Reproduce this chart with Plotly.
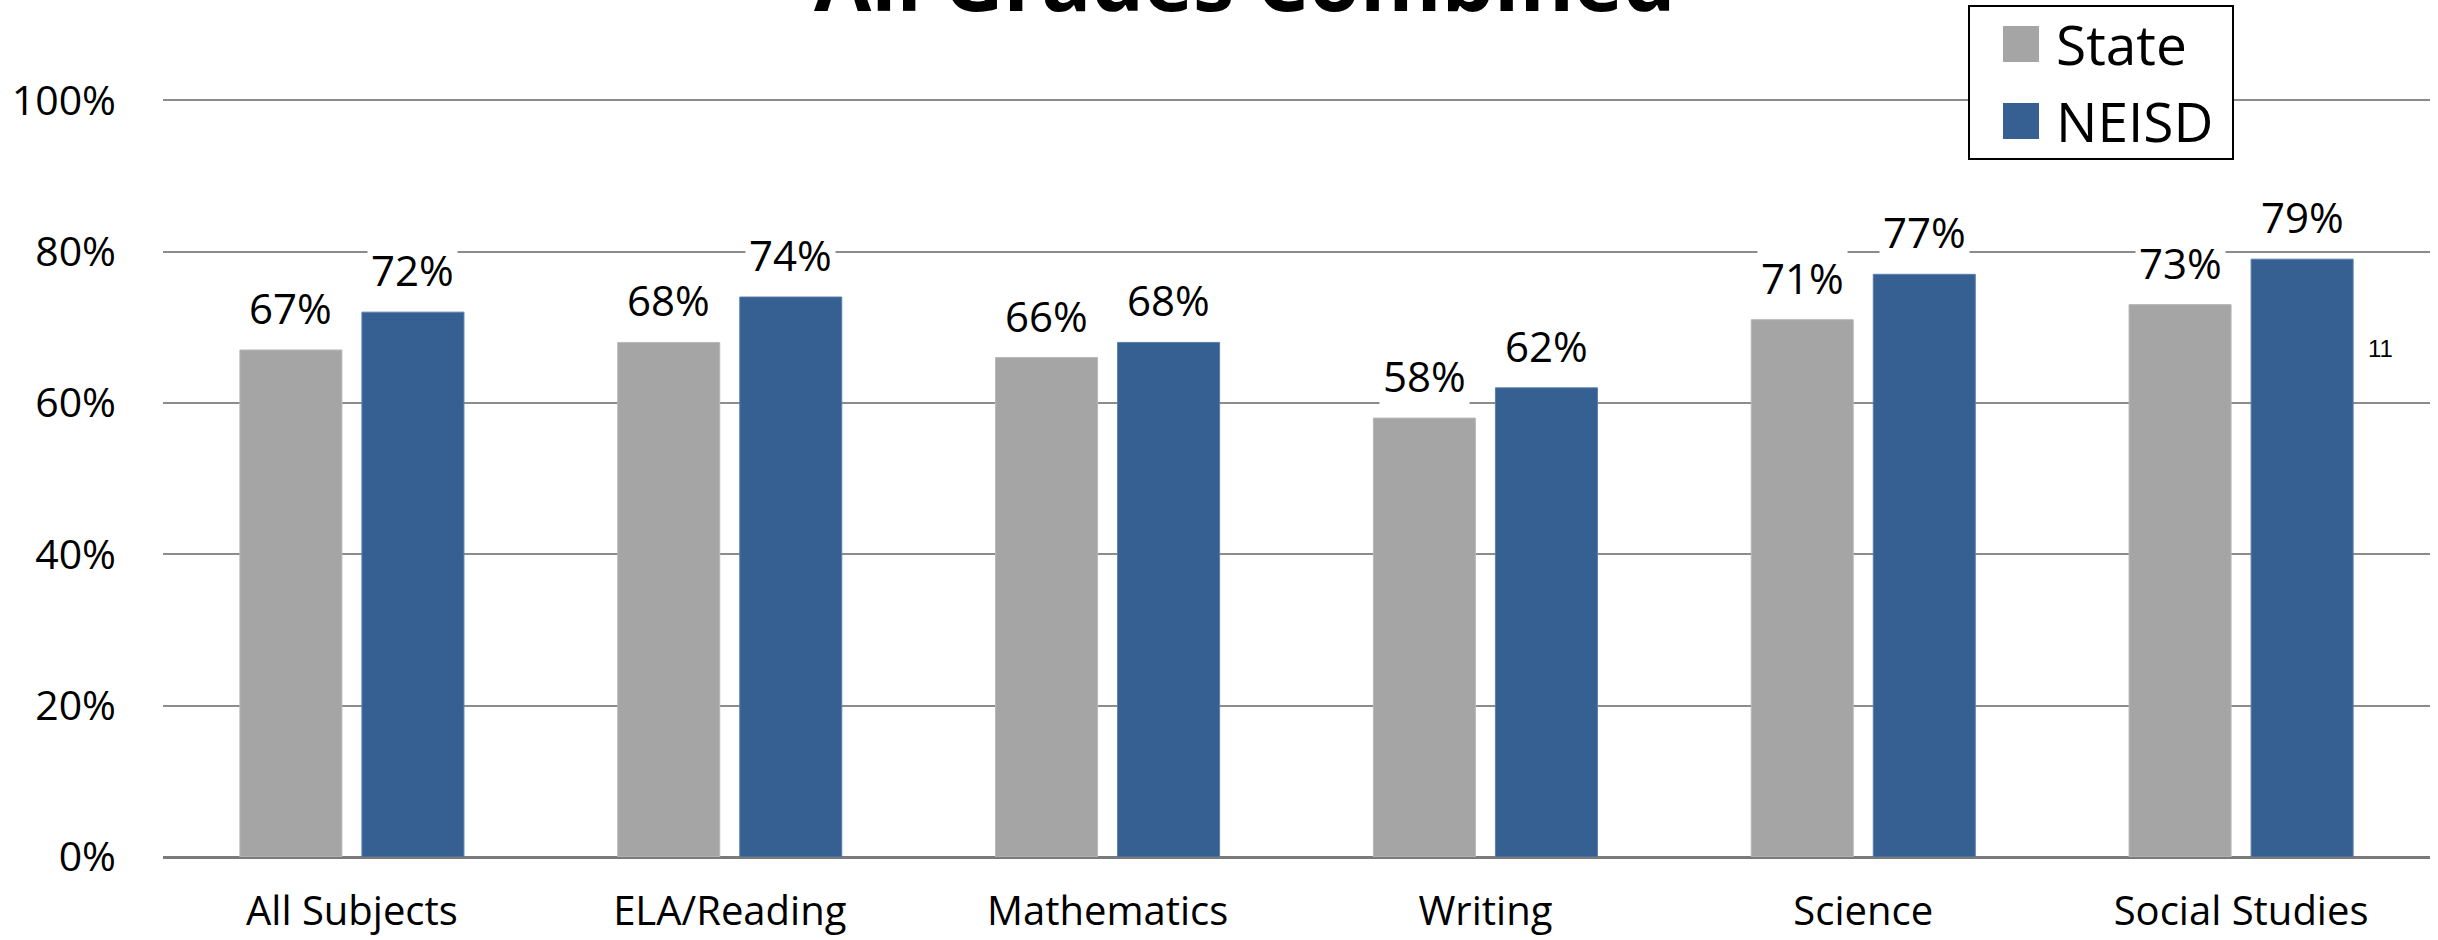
import plotly.graph_objects as go

categories = ["All Subjects", "ELA/Reading", "Mathematics", "Writing", "Science", "Social Studies"]
state_values = [0.67, 0.68, 0.66, 0.58, 0.71, 0.73]
neisd_values = [0.72, 0.74, 0.68, 0.62, 0.77, 0.79]
series_names = ["State", "NEISD"]
y_ticks = [0, 0.2, 0.4, 0.6, 0.8, 1.0]
title_text = "All Grades Combined"
page_note = "11"

W, H = 2438, 940
ML, MR, MT, MB = 163, 8, 98, 83
PW, PH = W - ML - MR, H - MT - MB

def px_x(x):
    return (x - ML) / PW

def px_y(y):
    return (H - MB - y) / PH

colors = ["#a5a5a5", "#376092"]
edge = ["#b8b8b8", "#5a7fab"]
FONT = "Open Sans"

fig = go.Figure()
for name, vals, c, e in zip(series_names, [state_values, neisd_values], colors, edge):
    fig.add_trace(go.Bar(x=categories, y=vals, name=name, marker=dict(color=c, line=dict(color=e, width=1)),
                         showlegend=False, hoverinfo="skip"))

annotations = []
offsets = [-61, 61]
for vals, dx in zip([state_values, neisd_values], offsets):
    for cat, v in zip(categories, vals):
        annotations.append(dict(x=cat, y=v, xref="x", yref="y", text=f"{round(v*100)}%",
                                showarrow=False, xshift=dx, yanchor="bottom", yshift=10,
                                font=dict(family=FONT, size=42, color="#000"),
                                bgcolor="white", borderpad=3))

# title (partly cut off at top as in the original)
annotations.append(dict(x=px_x(1245), y=px_y(-22), xref="paper", yref="paper", text=f"<b>{title_text}</b>",
                        showarrow=False, xanchor="center", yanchor="middle",
                        font=dict(family=FONT, size=83, color="#000")))
# page number
annotations.append(dict(x=px_x(2380), y=px_y(348), xref="paper", yref="paper", text=page_note,
                        showarrow=False, xanchor="center", yanchor="middle",
                        font=dict(family="Liberation Sans", size=24, color="#000")))

shapes = []
# legend box
shapes.append(dict(type="rect", xref="paper", yref="paper", x0=px_x(1969), x1=px_x(2233), y0=px_y(159), y1=px_y(6),
                   line=dict(color="#000", width=2), fillcolor="white", layer="above"))
for i, (name, c) in enumerate(zip(series_names, colors)):
    cy = 44 + i * 77
    shapes.append(dict(type="rect", xref="paper", yref="paper", x0=px_x(2003), x1=px_x(2039),
                       y0=px_y(cy + 18), y1=px_y(cy - 18), line=dict(width=0), fillcolor=c, layer="above"))
    annotations.append(dict(x=px_x(2054), y=px_y(cy), xref="paper", yref="paper", text=name,
                            showarrow=False, xanchor="left", yanchor="middle",
                            font=dict(family=FONT, size=55, color="#000")))

fig.update_layout(
    width=W, height=H,
    margin=dict(l=ML, r=MR, t=MT, b=MB, pad=0),
    paper_bgcolor="white", plot_bgcolor="white",
    barmode="group", bargap=0.354, bargroupgap=0.164,
    annotations=annotations, shapes=shapes,
    showlegend=False,
)
fig.update_xaxes(showgrid=False, showline=False, ticks="", ticklabelstandoff=27, automargin=False,
                 tickfont=dict(family=FONT, size=40, color="#000"))
fig.update_yaxes(range=[0, 1.003], tickvals=y_ticks, tickformat=".0%", showgrid=True, gridcolor="#8c8c8c",
                 gridwidth=2, zeroline=True, zerolinecolor="#7a7a7a", zerolinewidth=3, showline=False,
                 automargin=False,
                 ticks="", ticklabelstandoff=46, tickfont=dict(family=FONT, size=41, color="#000"))

fig.write_html("out.html", config={"displayModeBar": False, "staticPlot": True},
               post_script="document.body.style.margin='0';document.body.style.overflow='hidden';")
